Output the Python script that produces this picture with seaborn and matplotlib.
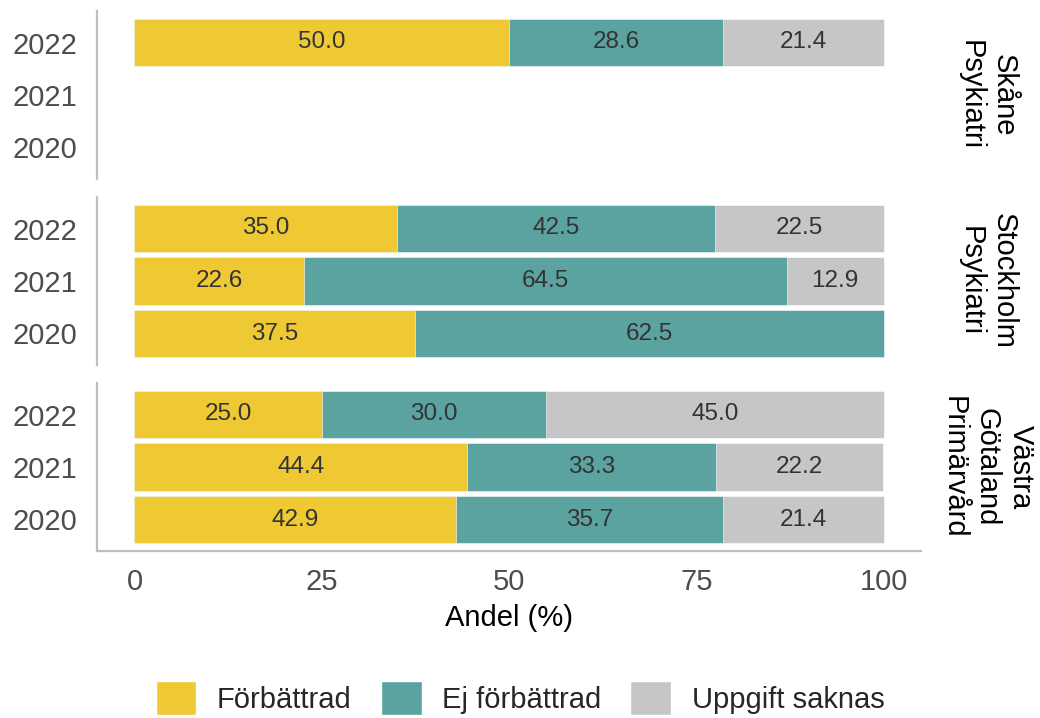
"""Stacked horizontal bars of outcome shares per unit and year."""
import matplotlib.pyplot as plt
import pandas as pd
import seaborn as sns
from matplotlib.patches import Patch

# Data
units = ["Skåne\nPsykiatri", "Stockholm\nPsykiatri", "Västra\nGötaland\nPrimärvård"]
years = ["2022", "2021", "2020"]
categories = ["Förbättrad", "Ej förbättrad", "Uppgift saknas"]
colors = ["#EEC934", "#5BA3A0", "#C6C6C6"]

unit_col = [units[0], units[1], units[1], units[1], units[2], units[2], units[2]]
year_col = ["2022", "2022", "2021", "2020", "2022", "2021", "2020"]
forbattrad = [50.0, 35.0, 22.6, 37.5, 25.0, 44.4, 42.9]
ej_forbattrad = [28.6, 42.5, 64.5, 62.5, 30.0, 33.3, 35.7]
uppgift_saknas = [21.4, 22.5, 12.9, 0.0, 45.0, 22.2, 21.4]

df = pd.DataFrame({
    "unit": unit_col,
    "year": year_col,
    categories[0]: forbattrad,
    categories[1]: ej_forbattrad,
    categories[2]: uppgift_saknas,
})

sns.set_theme(style="white")
plt.rcParams["font.family"] = ["Liberation Sans", "DejaVu Sans"]

W, H = 1040, 718
fig = plt.figure(figsize=(W / 100, H / 100), dpi=100)

panel_left, panel_right = 97, 921
panel_tops = [11, 197, 383]
panel_h = 168

axes = []
for i, unit in enumerate(units):
    top = panel_tops[i]
    ax = fig.add_axes([panel_left / W, (H - top - panel_h) / H,
                       (panel_right - panel_left) / W, panel_h / H])
    axes.append(ax)
    sub = df[df["unit"] == unit].copy()
    cum = sub[categories].cumsum(axis=1)
    # draw back to front so each layer shows its own segment
    for j in reversed(range(len(categories))):
        sub["end"] = cum[categories[j]]
        sns.barplot(data=sub, x="end", y="year", order=years, orient="h",
                    color=colors[j], width=0.9, saturation=1,
                    edgecolor="white", linewidth=0.4, ax=ax)
    # segment labels
    for _, row in sub.iterrows():
        start = 0.0
        ypos = years.index(row["year"])
        for c in categories:
            v = row[c]
            if v > 0:
                ax.text(start + v / 2, ypos, f"{v:.1f}", ha="center",
                        va="center", fontsize=17.5, color="#333333")
            start += v
    ax.set_xlim(-5, 105)
    ax.set_ylim(len(years) - 0.4, -0.6)
    ax.set_xlabel("")
    ax.set_ylabel("")
    for s in ["top", "right", "bottom"]:
        ax.spines[s].set_visible(False)
    ax.spines["left"].set_color("#BEBEBE")
    ax.spines["left"].set_linewidth(1.6)
    ax.tick_params(axis="y", length=0, labelsize=21, labelcolor="#4D4D4D", pad=14)
    ax.tick_params(axis="x", length=0)
    if i < len(units) - 1:
        ax.set_xticklabels([])
    ax.text(1.080, 0.5, unit, transform=ax.transAxes, rotation=-90,
            ha="center", va="center", fontsize=21, color="black",
            linespacing=1.25)

last = axes[-1]
last.spines["bottom"].set_visible(True)
last.spines["bottom"].set_color("#BEBEBE")
last.spines["bottom"].set_linewidth(1.6)
last.set_xticks([0, 25, 50, 75, 100])
last.set_xticklabels(["0", "25", "50", "75", "100"])
last.tick_params(axis="x", labelsize=21, labelcolor="#4D4D4D", pad=12)
last.set_xlabel("Andel (%)", fontsize=21, color="black", labelpad=6)

handles = [Patch(facecolor=c, edgecolor="white", label=l) for c, l in zip(colors, categories)]
fig.legend(handles=handles, loc="center", bbox_to_anchor=(0.5, 1 - 698 / H),
           ncol=3, frameon=False, fontsize=21, handlelength=1.4,
           handleheight=1.4, handletextpad=0.7, columnspacing=1.0)

fig.savefig("out.png", dpi=100)
